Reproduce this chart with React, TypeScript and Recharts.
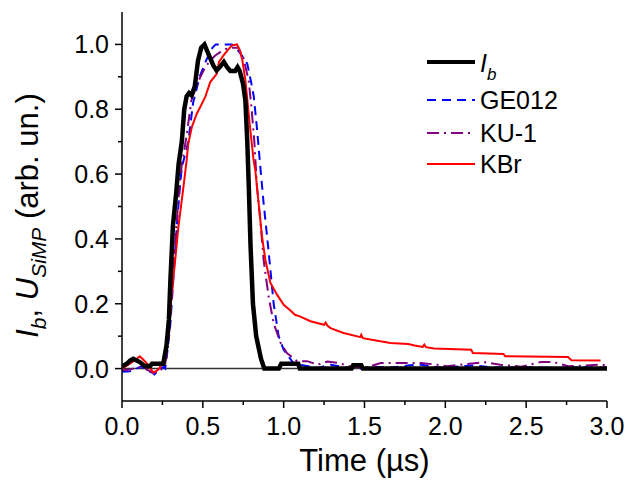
import React from 'react';
import { LineChart, Line, XAxis, YAxis, ReferenceLine, Legend } from 'recharts';

const xTicks = [0, 0.25, 0.5, 0.75, 1, 1.25, 1.5, 1.75, 2, 2.25, 2.5, 2.75, 3];
const yTicks = [0, 0.1, 0.2, 0.3, 0.4, 0.5, 0.6, 0.7, 0.8, 0.9, 1.0];
const seriesNames = ['Ib', 'GE012', 'KU-1', 'KBr'];

const ibSeries: [number, number][] = [
  [0, 0.007], [0.03, 0.015], [0.05, 0.025], [0.07, 0.03], [0.09, 0.025], [0.11, 0.02],
  [0.14, 0.008], [0.175, 0.008], [0.185, 0.015], [0.255, 0.015], [0.275, 0.07], [0.29, 0.15],
  [0.3, 0.28], [0.315, 0.44], [0.335, 0.54], [0.35, 0.63], [0.37, 0.7], [0.385, 0.8],
  [0.4, 0.84], [0.415, 0.85], [0.43, 0.843], [0.45, 0.87], [0.47, 0.95], [0.49, 0.99],
  [0.51, 1.0], [0.535, 0.97], [0.565, 0.935], [0.585, 0.92], [0.605, 0.93], [0.63, 0.946],
  [0.65, 0.93], [0.67, 0.918], [0.7, 0.918], [0.715, 0.93], [0.728, 0.918], [0.748, 0.88],
  [0.763, 0.828], [0.775, 0.7], [0.785, 0.55], [0.795, 0.38], [0.81, 0.2], [0.83, 0.1],
  [0.86, 0.03], [0.88, 0.0], [0.97, 0.0], [0.985, 0.015], [1.09, 0.015], [1.1, 0.0],
  [1.42, 0.0], [1.43, 0.01], [1.48, 0.01], [1.49, 0.0], [3.0, 0.0],
];

const ge012Series: [number, number][] = [
  [0, -0.01], [0.05, -0.008], [0.09, 0.0], [0.12, 0.007], [0.15, -0.005], [0.19, -0.013],
  [0.2, -0.018], [0.225, -0.005], [0.256, 0.005], [0.267, 0.0], [0.28, 0.05], [0.298, 0.13],
  [0.318, 0.28], [0.339, 0.44], [0.36, 0.57], [0.37, 0.62], [0.41, 0.7], [0.44, 0.82],
  [0.48, 0.9], [0.52, 0.95], [0.56, 0.99], [0.58, 1.0], [0.68, 1.0], [0.72, 0.98],
  [0.75, 0.96], [0.775, 0.94], [0.8, 0.88], [0.815, 0.84], [0.835, 0.74], [0.856, 0.62],
  [0.876, 0.51], [0.897, 0.41], [0.918, 0.305], [0.938, 0.2], [0.969, 0.1], [1.0, 0.058],
  [1.06, 0.017], [1.1, 0.012], [1.21, 0.002], [1.29, 0.012], [1.38, 0.004], [1.46, 0.0],
  [1.56, 0.005], [1.66, 0.003], [1.78, 0.01], [1.85, 0.012], [1.97, 0.003], [2.18, 0.01],
  [2.3, 0.003], [2.5, 0.004], [2.7, 0.002], [2.85, 0.004], [3.0, 0.003],
];

const ku1Series: [number, number][] = [
  [0, -0.005], [0.05, -0.003], [0.1, 0.005], [0.14, 0.0], [0.18, -0.01], [0.22, -0.012],
  [0.25, 0.0], [0.265, 0.01], [0.28, 0.05], [0.295, 0.13], [0.315, 0.27], [0.335, 0.43],
  [0.355, 0.56], [0.37, 0.63], [0.4, 0.72], [0.43, 0.83], [0.46, 0.87], [0.485, 0.9],
  [0.515, 0.93], [0.546, 0.95], [0.575, 0.965], [0.607, 0.976], [0.64, 0.985], [0.67, 0.99],
  [0.72, 0.99], [0.752, 0.956], [0.783, 0.89], [0.8, 0.81], [0.818, 0.705], [0.835, 0.56],
  [0.856, 0.458], [0.876, 0.335], [0.907, 0.222], [0.938, 0.14], [0.98, 0.08], [1.02, 0.048],
  [1.083, 0.023], [1.145, 0.023], [1.21, 0.012], [1.27, 0.022], [1.34, 0.017], [1.41, 0.007],
  [1.5, 0.002], [1.6, 0.017], [1.7, 0.017], [1.85, 0.017], [1.95, 0.012], [2.01, 0.007],
  [2.24, 0.02], [2.34, 0.012], [2.47, 0.006], [2.59, 0.02], [2.67, 0.02], [2.76, 0.007],
  [2.96, 0.012], [3.0, 0.01],
];

const kbrSeries: [number, number][] = [
  [0, 0.0], [0.07, 0.022], [0.11, 0.038], [0.143, 0.022], [0.174, 0.002], [0.194, -0.013],
  [0.225, -0.003], [0.246, 0.012], [0.267, 0.028], [0.287, 0.1], [0.308, 0.233], [0.329, 0.335],
  [0.349, 0.438], [0.38, 0.56], [0.4, 0.643], [0.41, 0.694], [0.432, 0.745], [0.463, 0.787],
  [0.484, 0.807], [0.515, 0.838], [0.546, 0.884], [0.587, 0.91], [0.6, 0.946], [0.628, 0.966],
  [0.65, 0.98], [0.68, 0.997], [0.711, 1.0], [0.73, 0.98], [0.745, 0.95], [0.763, 0.89],
  [0.794, 0.735], [0.814, 0.643], [0.825, 0.61], [0.845, 0.51], [0.866, 0.407], [0.887, 0.335],
  [0.918, 0.264], [0.959, 0.228], [1.0, 0.197], [1.04, 0.18], [1.07, 0.166], [1.1, 0.161],
  [1.166, 0.146], [1.25, 0.135], [1.26, 0.142], [1.27, 0.133], [1.29, 0.125], [1.37, 0.11],
  [1.475, 0.097], [1.48, 0.104], [1.49, 0.094], [1.58, 0.086], [1.66, 0.079], [1.77, 0.076],
  [1.81, 0.071], [1.86, 0.067], [1.87, 0.074], [1.88, 0.066], [1.93, 0.062], [2.16, 0.058],
  [2.17, 0.048], [2.36, 0.045], [2.37, 0.038], [2.76, 0.036], [2.77, 0.03], [2.78, 0.026],
  [2.96, 0.025],
];

const toData = (s: [number, number][]) => s.map(([t, v]) => ({ t, v }));

const FONT = 'Liberation Sans, Arial, sans-serif';

const XTick = (props: any) => {
  const { x, y, payload } = props;
  const v = payload.value as number;
  const major = Math.abs(v * 2 - Math.round(v * 2)) < 1e-6;
  return (
    <g>
      <line x1={x} x2={x} y1={y} y2={y + (major ? 7 : 4)} stroke="#000" strokeWidth={1.5} />
      {major && (
        <text x={x} y={y + 34} textAnchor="middle" fontSize={25} fontFamily={FONT} fill="#000">
          {v.toFixed(1)}
        </text>
      )}
    </g>
  );
};

const YTick = (props: any) => {
  const { x, y, payload } = props;
  const v = payload.value as number;
  const major = Math.round(v * 10) % 2 === 0;
  return (
    <g>
      <line x1={x - (major ? 7 : 4)} x2={x} y1={y} y2={y} stroke="#000" strokeWidth={1.5} />
      {major && (
        <text x={x - 13} y={y + 9} textAnchor="end" fontSize={25} fontFamily={FONT} fill="#000">
          {v.toFixed(1)}
        </text>
      )}
    </g>
  );
};

const XLabel = (props: any) => {
  const vb = props.viewBox || {};
  return (
    <text x={vb.x + vb.width / 2} y={vb.y + 70} textAnchor="middle" fontSize={31} fontFamily={FONT} fill="#000">
      Time (µs)
    </text>
  );
};

const YLabel = (props: any) => {
  const vb = props.viewBox || {};
  const cx = 30;
  const cy = vb.y + vb.height / 2 + 9;
  return (
    <text transform={`translate(${cx},${cy}) rotate(-90)`} textAnchor="middle" fontSize={31} fontFamily={FONT} fill="#000">
      <tspan fontStyle="italic">I</tspan>
      <tspan fontStyle="italic" fontSize={21} dy={8}>b</tspan>
      <tspan dy={-8}>, </tspan>
      <tspan fontStyle="italic">U</tspan>
      <tspan fontStyle="italic" fontSize={21} dy={8}>SiMP</tspan>
      <tspan dy={-8}> (arb. un.)</tspan>
    </text>
  );
};

const LegendContent = () => {
  const x1 = 419;
  const x2 = 467;
  const tx = 472;
  return (
    <svg width={620} height={470} style={{ position: 'absolute', left: 0, top: 0 }}>
      <line x1={x1} x2={x2} y1={54} y2={54} stroke="#000" strokeWidth={4} />
      <text x={tx} y={64} fontSize={25} fontFamily={FONT} fill="#000">
        <tspan fontStyle="italic">I</tspan>
        <tspan fontStyle="italic" fontSize={17} dy={8}>b</tspan>
      </text>
      <line x1={x1} x2={x2} y1={92} y2={92} stroke="#0000ff" strokeWidth={2} strokeDasharray="9 6" />
      <text x={tx} y={101} fontSize={25} fontFamily={FONT} fill="#000">{seriesNames[1]}</text>
      <line x1={x1} x2={x2} y1={125} y2={125} stroke="#800080" strokeWidth={2} strokeDasharray="12 5 2 5" />
      <text x={tx} y={134} fontSize={25} fontFamily={FONT} fill="#000">{seriesNames[2]}</text>
      <line x1={x1} x2={x2} y1={156} y2={156} stroke="#ff0000" strokeWidth={2} />
      <text x={tx} y={165} fontSize={25} fontFamily={FONT} fill="#000">{seriesNames[3]}</text>
    </svg>
  );
};

export default function App() {
  return (
    <LineChart width={620} height={470} margin={{ top: 4, right: 21, left: 0, bottom: 0 }}>
      <XAxis
        xAxisId="main"
        dataKey="t"
        type="number"
        domain={[0, 3]}
        ticks={xTicks}
        interval={0}
        tick={<XTick />}
        tickSize={0}
        tickMargin={0}
        tickLine={false}
        height={77}
        stroke="#000"
        strokeWidth={1.5}
        allowDataOverflow
        label={<XLabel />}
      />
      <XAxis xAxisId="top" orientation="top" type="number" domain={[0, 3]} tick={false} tickLine={false} height={0} stroke="#000" strokeWidth={1.5} />
      <YAxis
        yAxisId="main"
        type="number"
        domain={[-0.1, 1.1]}
        ticks={yTicks}
        interval={0}
        tick={<YTick />}
        tickSize={0}
        tickMargin={0}
        tickLine={false}
        width={114}
        stroke="#000"
        strokeWidth={1.5}
        allowDataOverflow
        label={<YLabel />}
      />
      <YAxis yAxisId="right" orientation="right" type="number" domain={[-0.1, 1.1]} tick={false} tickLine={false} width={0} stroke="#000" strokeWidth={1.5} />
      <ReferenceLine xAxisId="main" yAxisId="main" y={0} stroke="#333" strokeWidth={1.5} />
      <Line xAxisId="main" yAxisId="main" data={toData(ge012Series)} dataKey="v" name={seriesNames[1]} type="linear" stroke="#0000ff" strokeWidth={2} strokeDasharray="9 6" dot={false} isAnimationActive={false} />
      <Line xAxisId="main" yAxisId="main" data={toData(ku1Series)} dataKey="v" name={seriesNames[2]} type="linear" stroke="#800080" strokeWidth={2} strokeDasharray="12 5 2 5" dot={false} isAnimationActive={false} />
      <Line xAxisId="main" yAxisId="main" data={toData(kbrSeries)} dataKey="v" name={seriesNames[3]} type="linear" stroke="#ff0000" strokeWidth={2} dot={false} isAnimationActive={false} />
      <Line xAxisId="main" yAxisId="main" data={toData(ibSeries)} dataKey="v" name={seriesNames[0]} type="linear" stroke="#000" strokeWidth={4.5} dot={false} isAnimationActive={false} />
      <Legend layout="vertical" align="center" verticalAlign="middle" content={<LegendContent />} wrapperStyle={{ left: 0, top: 0, width: 620, height: 470, pointerEvents: 'none' }} />
    </LineChart>
  );
}
